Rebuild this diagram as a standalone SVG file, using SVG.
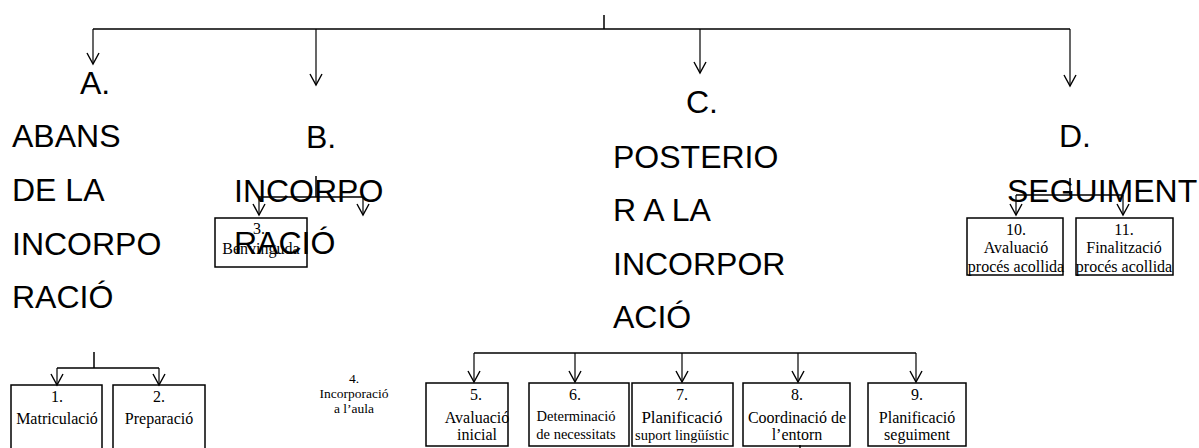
<svg xmlns="http://www.w3.org/2000/svg" width="1199" height="448" viewBox="0 0 1199 448">
<defs>
<marker id="v" viewBox="0 0 12 14" refX="11" refY="7" markerWidth="12" markerHeight="14" markerUnits="userSpaceOnUse" orient="auto" overflow="visible">
<path d="M0,1 L11,7 L0,13" fill="none" stroke="#000" stroke-width="1.4"/>
</marker>
<style>
.c{fill:none;stroke:#000;stroke-width:1.5}
.a{fill:none;stroke:#000;stroke-width:1.2;marker-end:url(#v)}
.bx{fill:none;stroke:#000;stroke-width:1.5}
.L{font-family:"Liberation Sans",Arial,sans-serif;font-size:32px;fill:#000}
.t{font-family:"Liberation Serif","Times New Roman",serif;font-size:16px;text-anchor:middle;fill:#000}
.s{font-size:14.5px}
.m{font-size:13.5px}
.b{font-size:17px}
</style>
</defs>
<rect width="1199" height="448" fill="#fff"/>
<g id="connectors">
<path class="c" d="M604,15 V29 M93,29 H1070"/>
<path class="a" d="M93,29 V64"/>
<path class="a" d="M316,29 V85"/>
<path class="a" d="M700,29 V73"/>
<path class="a" d="M1070,29 V86"/>
<path class="c" d="M316,176 V197 M259,197 H363"/>
<path class="a" d="M259,197 V215"/>
<path class="a" d="M363,197 V215"/>
<path class="c" d="M1070,178 V195 M1016,195 H1123"/>
<path class="a" d="M1016,195 V215"/>
<path class="a" d="M1123,195 V215"/>
<path class="c" d="M94,352 V368 M57,368 H159"/>
<path class="a" d="M57,368 V385"/>
<path class="a" d="M159,368 V385"/>
<path class="c" d="M474,353 H916"/>
<path class="a" d="M474,353 V382"/>
<path class="a" d="M575,353 V382"/>
<path class="a" d="M682,353 V382"/>
<path class="a" d="M798,353 V382"/>
<path class="a" d="M916,353 V382"/>
<path class="c" d="M800,445 V448"/>
</g>
<g id="node-1">
<rect class="bx" x="11" y="385" width="91" height="80"/>
<text class="t" x="57" y="402">1.</text>
<text class="t" x="57" y="424">Matriculació</text>
</g>
<g id="node-2">
<rect class="bx" x="113" y="385" width="92" height="80"/>
<text class="t" x="159" y="402">2.</text>
<text class="t" x="159" y="424">Preparació</text>
</g>
<g id="node-3">
<rect class="bx" x="215" y="218" width="92" height="49"/>
<text class="t" x="259" y="234">3.</text>
<text class="t" x="261" y="254">Benvinguda</text>
</g>
<g id="node-4">
<text class="t m" x="354" y="383">4.</text>
<text class="t m" x="354" y="398">Incorporació</text>
<text class="t m" x="354" y="413">a l’aula</text>
</g>
<g id="node-5">
<rect class="bx" x="426" y="383" width="82" height="63"/>
<text class="t" x="476" y="400">5.</text>
<text class="t" x="477" y="423">Avaluació</text>
<text class="t" x="477" y="440">inicial</text>
</g>
<g id="node-6">
<rect class="bx" x="529" y="383" width="100" height="63"/>
<text class="t" x="575" y="400">6.</text>
<text class="t s" x="576" y="421">Determinació</text>
<text class="t s" x="576" y="439">de necessitats</text>
</g>
<g id="node-7">
<rect class="bx" x="632" y="383" width="101" height="63"/>
<text class="t" x="682" y="400">7.</text>
<text class="t b" x="682" y="423">Planificació</text>
<text class="t s" x="682" y="440">suport lingüístic</text>
</g>
<g id="node-8">
<rect class="bx" x="743" y="383" width="107" height="63"/>
<text class="t" x="797" y="400">8.</text>
<text class="t" x="797" y="423">Coordinació de</text>
<text class="t" x="797" y="440">l’entorn</text>
</g>
<g id="node-9">
<rect class="bx" x="868" y="383" width="98" height="63"/>
<text class="t" x="917" y="400">9.</text>
<text class="t" x="917" y="423">Planificació</text>
<text class="t" x="917" y="440">seguiment</text>
</g>
<g id="node-10">
<rect class="bx" x="967" y="218" width="96" height="57"/>
<text class="t" x="1016" y="235">10.</text>
<text class="t" x="1016" y="253">Avaluació</text>
<text class="t" x="1016" y="272">procés acollida</text>
</g>
<g id="node-11">
<rect class="bx" x="1076" y="218" width="97" height="57"/>
<text class="t" x="1124" y="235">11.</text>
<text class="t" x="1124" y="253">Finalització</text>
<text class="t" x="1124" y="272">procés acollida</text>
</g>
<g id="node-A">
<text class="L" x="80" y="94">A.</text>
<text class="L" x="12" y="147">ABANS</text>
<text class="L" x="12" y="201">DE LA</text>
<text class="L" x="12" y="255">INCORPO</text>
<text class="L" x="12" y="308">RACIÓ</text>
</g>
<g id="node-B">
<text class="L" x="306" y="148">B.</text>
<text class="L" x="234" y="202">INCORPO</text>
<text class="L" x="234" y="254">RACIÓ</text>
</g>
<g id="node-C">
<text class="L" x="686" y="113">C.</text>
<text class="L" x="613" y="168">POSTERIO</text>
<text class="L" x="613" y="221">R A LA</text>
<text class="L" x="613" y="275">INCORPOR</text>
<text class="L" x="613" y="328">ACIÓ</text>
</g>
<g id="node-D">
<text class="L" x="1059" y="147">D.</text>
<text class="L" x="1007" y="202">SEGUIMENT</text>
</g>
</svg>
